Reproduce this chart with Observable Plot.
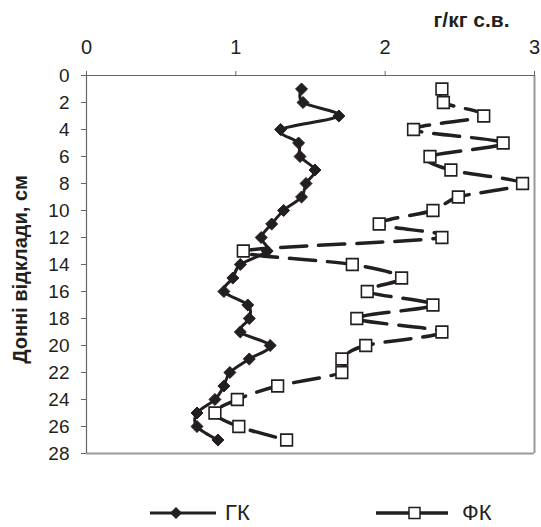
<!DOCTYPE html>
<html>
<head>
<meta charset="utf-8">
<script src="https://cdn.jsdelivr.net/npm/d3@7"></script>
<script src="https://cdn.jsdelivr.net/npm/@observablehq/plot@0.6"></script>
<style>
  body { margin: 0; background: #fff; font-family: "Liberation Sans", Arial, sans-serif; }
  #wrap { width: 541px; position: relative; }
  #wrap svg { display: block; }
  #legend { position: relative; width: 541px; height: 57px; }
  .item { position: absolute; top: 28px; height: 30px; display: flex; align-items: center; font-size: 22px; color: #222; }
</style>
</head>
<body>
<div id="wrap"></div>
<script>
const depths = [1,2,3,4,5,6,7,8,9,10,11,12,13,14,15,16,17,18,19,20,21,22,23,24,25,26,27];
const gk = [1.44,1.45,1.69,1.30,1.42,1.43,1.53,1.47,1.44,1.32,1.24,1.17,1.21,1.03,0.98,0.92,1.08,1.09,1.03,1.23,1.09,0.96,0.92,0.86,0.74,0.74,0.88];
const fk = [2.38,2.39,2.66,2.19,2.79,2.30,2.44,2.92,2.49,2.32,1.96,2.38,1.05,1.78,2.11,1.88,2.32,1.81,2.38,1.87,1.71,1.71,1.28,1.01,0.86,1.02,1.34];
const xTicks = [0,1,2,3];
const yTicks = [0,2,4,6,8,10,12,14,16,18,20,22,24,26,28];
const xLabel = "г/кг с.в.";
const yLabel = "Донні відклади, см";
const seriesNames = ["ГК", "ФК"];

const gkData = depths.map((d, i) => ({depth: d, value: gk[i]}));
const fkData = depths.map((d, i) => ({depth: d, value: fk[i]}));
const ink = "#231f20";
const smooth = {curve: "cardinal", tension: 0};

const chart = Plot.plot({
  width: 541,
  height: 470,
  marginTop: 75,
  marginLeft: 86,
  marginRight: 7,
  marginBottom: 17,
  style: {fontFamily: "'Liberation Sans', Arial, sans-serif", fontSize: "19px", color: ink, background: "#fff", overflow: "visible"},
  x: {domain: [0, 3], axis: null},
  y: {domain: [0, 28], reverse: true, axis: null},
  marks: [
    Plot.ruleX([3], {stroke: "#9a9a9a", strokeWidth: 2}),
    Plot.ruleY([28], {stroke: "#9a9a9a", strokeWidth: 2}),
    Plot.ruleX([0], {stroke: "#666", strokeWidth: 1.2}),
    Plot.ruleY([0], {stroke: "#666", strokeWidth: 1.2}),
    Plot.axisX(xTicks, {anchor: "top", tickSize: 5, tickPadding: 17, tickFormat: "d", stroke: "#666", fontSize: 20, fill: ink, label: null}),
    Plot.axisY(yTicks, {anchor: "left", tickSize: 5, tickPadding: 12, tickFormat: "d", stroke: "#666", fontSize: 19, fill: ink, label: null}),
    Plot.text([xLabel], {frameAnchor: "top-right", textAnchor: "end", lineAnchor: "bottom", dx: -25, dy: -49, fontWeight: "bold", fontSize: 21, fill: ink}),
    Plot.text([yLabel], {frameAnchor: "left", textAnchor: "middle", lineAnchor: "middle", rotate: -90, dx: -66, dy: 5, fontWeight: "bold", fontSize: 20, fill: ink}),
    Plot.line(gkData, {x: "value", y: "depth", ...smooth, stroke: ink, strokeWidth: 3}),
    Plot.line(fkData, {x: "value", y: "depth", ...smooth, stroke: ink, strokeWidth: 3.5, strokeDasharray: "26,12"}),
    Plot.dot(gkData, {x: "value", y: "depth", symbol: "diamond2", r: 5.4, fill: ink, stroke: ink, strokeWidth: 1}),
    Plot.dot(fkData, {x: "value", y: "depth", symbol: "square", r: 6.6, fill: "#fff", stroke: ink, strokeWidth: 1.6})
  ]
});
const wrap = document.getElementById("wrap");
wrap.appendChild(chart);

const legend = document.createElement("div");
legend.id = "legend";
legend.innerHTML = `
  <div class="item" style="left:150px">
    <svg width="68" height="20"><line x1="0" y1="10" x2="66" y2="10" stroke="${ink}" stroke-width="3"/><path d="M26,4 L32,10 L26,16 L20,10 Z" fill="${ink}"/></svg>
    <span style="margin-left:7px">${seriesNames[0]}</span>
  </div>
  <div class="item" style="left:376px">
    <svg width="74" height="20"><line x1="0" y1="10" x2="72" y2="10" stroke="${ink}" stroke-width="3.5"/><rect x="33" y="4.5" width="11" height="11" fill="#fff" stroke="${ink}" stroke-width="1.5"/></svg>
    <span style="margin-left:12px">${seriesNames[1]}</span>
  </div>`;
wrap.appendChild(legend);
</script>
</body>
</html>
